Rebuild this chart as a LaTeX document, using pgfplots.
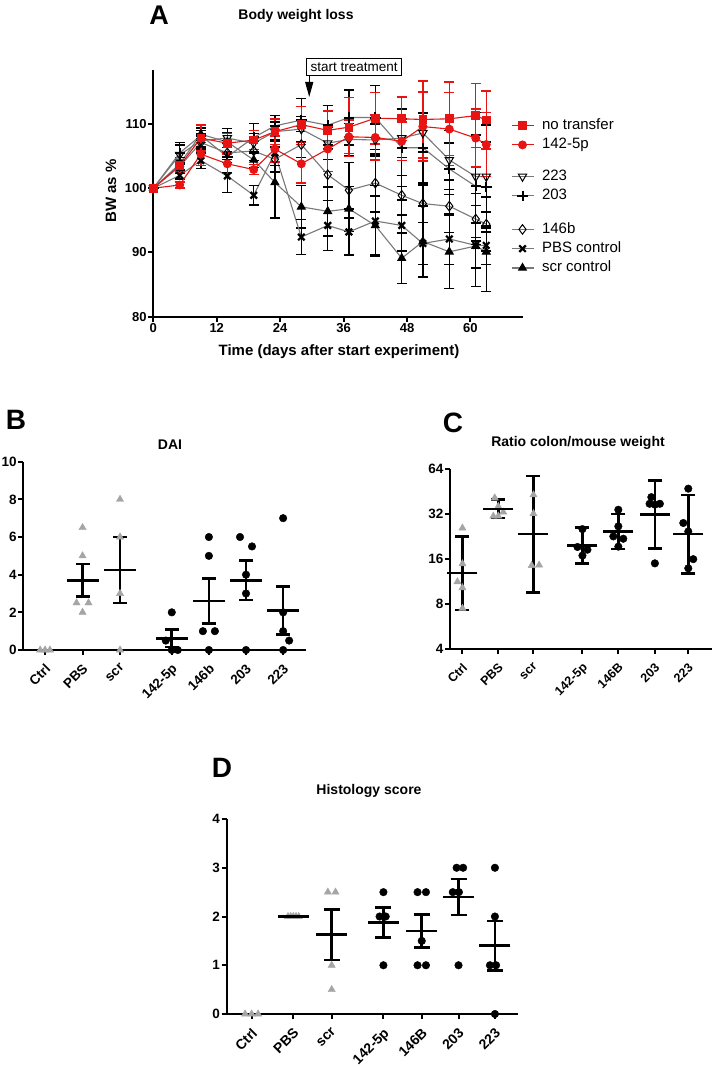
\documentclass[border=0pt]{standalone}
\usepackage{pgfplots}
\pgfplotsset{compat=1.18}
\usepackage{pgfplotstable}
\usepackage{fontspec}
\setmainfont{Liberation Sans}
\usetikzlibrary{arrows.meta}
\definecolor{myred}{RGB}{232,20,20}
\definecolor{lgray}{RGB}{120,120,120}
\definecolor{pgray}{RGB}{165,165,165}

% Panel A: body weight (mean, SEM)
\pgfplotstableread{
day nt   ntE pf    pfE sa    saE sb    sbE sc    scE pbs  pbsE scr   scrE
0   100  0   100   0   100   0   100   0   100   0   100  0    100   0
5   103.5 1.0 100.5 0.5 105.2 1.5 105.5 1.6 103.4 1.0 102.0 0.6 103.8 1.0
9   107.8 2.0 105.3 1.8 107.4 1.0 108.2 0.8 107.1 1.0 104.3 1.2 108.4 1.0
14  107.0 1.5 103.8 1.5 107.8 1.5 104.9 2.5 105.5 1.5 101.9 2.6 107.2 1.5
19  107.5 1.5 102.9 0.8 107.0 1.5 107.9 2.2 105.8 1.5 98.9 1.5 104.4 1.2
23  108.8 2.0 106.1 2.0 108.8 1.5 109.7 1.6 104.5 2.0 105.5 2.0 100.9 5.5
28  109.9 2.8 103.8 3.0 109.2 2.0 110.6 3.4 106.8 2.0 92.4 2.7 97.1 3.3
33  109.0 3.0 106.1 3.5 107.0 2.5 109.8 3.1 102.1 4.0 94.2 3.9 96.4 3.8
37  109.5 4.6 108.0 2.6 107.6 2.5 111.0 4.3 99.7 4.3 93.2 3.6 96.8 3.5
42  110.9 4.0 107.9 3.5 107.5 2.5 111.0 5.0 100.8 4.5 94.9 5.5 94.2 4.6
47  110.8 3.4 107.3 3.0 107.8 3.0 106.3 6.0 98.9 3.1 94.2 4.0 89.1 3.9
51  110.7 6.0 109.6 5.4 108.6 3.0 106.3 5.5 97.6 2.9 91.4 3.3 91.7 5.5
56  110.8 5.7 109.2 5.7 104.4 4.6 103.0 4.0 97.2 4.1 92.1 4.0 90.1 5.7
61  111.3 5.0 107.8 4.5 101.8 10.0 100.3 8.0 95.2 4.0 91.1 3.5 91.0 6.3
63  110.6 4.5 106.8 5.0 101.8 8.0 100.2 7.0 94.4 4.2 91.1 3.0 90.1 6.2
}\bwtab

% Panel B: DAI
\pgfplotstableread{
x y
0.45 0
0.58 0
0.71 0
1.58 6.5
1.58 5
1.42 2.5
1.74 2.5
1.58 2
2.58 8
2.58 6
2.58 3
2.58 0
}\daictrl
\pgfplotstableread{
x y
3.96 2
3.80 0.5
3.96 0
4.12 0
4.95 6
4.95 5
4.79 1
5.11 1
4.95 0
5.78 6
6.10 5.5
5.94 4
5.94 3
5.94 0
6.93 7
6.93 2
6.93 1
7.09 0.5
6.93 0
}\daitrt
\pgfplotstableread{
x m e
1.58 3.7 0.86
2.58 4.25 1.75
3.96 0.625 0.47
4.95 2.6 1.2
5.94 3.7 1.05
6.93 2.1 1.27
}\daimean

% Panel C: ratio colon/mouse weight
\pgfplotstableread{
x y
0.35 25.8
0.35 14.9
0.21 11.3
0.35 10.3
0.35 7.5
1.26 41
1.36 36
1.50 33
1.36 31
1.22 31
2.35 43
2.35 32.2
2.30 14.5
2.51 14.6
}\ratctrl
\pgfplotstableread{
x y
3.73 25.4
3.59 19.3
3.87 18.5
3.73 16.9
4.74 34.2
4.74 26.5
4.60 22.7
4.88 21.9
4.74 19.4
5.67 41.5
5.62 37.5
5.77 37
5.91 37.5
5.77 15
6.71 47.3
6.57 27.9
6.71 24.5
6.85 16
6.71 13.9
}\rattrt
\pgfplotstableread{
x m ep em
0.35 12.9 9.8 5.6
1.36 34.7 5.2 4.6
2.35 23.6 33.9 14.0
3.73 19.7 6.4 4.7
4.74 24.4 7.6 5.7
5.77 31.8 21.9 12.9
6.71 23.5 19.4 10.7
}\ratmean

% Panel D: histology score
\pgfplotstableread{
x y
0.48 0
0.65 0
0.82 0
1.60 2
1.67 2
1.74 2
1.81 2
1.88 2
2.64 2.5
2.84 2.5
2.74 1
2.74 0.5
}\hisctrl
\pgfplotstableread{
x y
4.09 2.5
3.99 2
4.15 2
4.09 1
4.98 2.5
5.20 2.5
5.09 1.5
4.98 1
5.20 1
6.00 3
6.17 3
5.90 2.5
6.06 2.5
6.05 1
7.00 3
7.00 2
6.87 1
7.03 1
7.00 0
}\histrt
\pgfplotstableread{
x m e
1.74 2 0
2.74 1.625 0.515
4.09 1.875 0.31
5.09 1.7 0.34
6.05 2.4 0.37
7.00 1.4 0.51
}\hismean

\pgfplotsset{
  gp/.style={
    scale only axis, clip=false,
    axis lines*=left,
    axis line style={line width=2pt, black, -},
    tick style={line width=2pt, black},
    tick align=outside,
    major tick length=5pt,
    /pgf/number format/assume math mode=true,
  },
  ticksB/.style={
    yticklabel style={font=\fontsize{13.5}{15}\selectfont\bfseries, inner sep=1.5pt},
    xticklabel style={font=\fontsize{#1}{15}\selectfont\bfseries, rotate=45, anchor=north east, inner sep=1pt, yshift=-4pt, xshift=-5pt},
  },
  sNT/.style={myred, line width=1.1pt, mark=square*, mark size=3.8pt, mark options={solid, fill=myred, draw=myred}},
  sPF/.style={myred, line width=1.1pt, mark=*, mark size=3.9pt, mark options={fill=myred, draw=myred}},
  sA/.style={lgray, line width=1.1pt, mark=triangle, mark size=4.8pt, mark options={rotate=180, fill=white, draw=black, line width=1pt}},
  sB/.style={lgray, line width=1.1pt, mark=+, mark size=5.2pt, mark options={draw=black, line width=2pt}},
  sC/.style={lgray, line width=1.1pt, mark=diamond, mark size=4.8pt, mark options={fill=white, draw=black, line width=1pt}},
  sP/.style={lgray, line width=1.1pt, mark=x, mark size=4.6pt, mark options={draw=black, line width=2.2pt}},
  sS/.style={lgray, line width=1.1pt, mark=triangle*, mark size=4.4pt, mark options={fill=black, draw=black}},
  ebk/.style={error bars/.cd, y dir=both, y explicit, error bar style={black, line width=1.5pt}, error mark=-, error mark options={rotate=90, black, mark size=5pt, line width=1.5pt}},
  erd/.style={error bars/.cd, y dir=both, y explicit, error bar style={myred, line width=1.5pt}, error mark=-, error mark options={rotate=90, myred, mark size=5pt, line width=1.5pt}},
  ctrlpt/.style={only marks, mark=triangle*, mark size=4.2pt, mark options={fill=pgray, draw=pgray}},
  trtpt/.style={only marks, mark=*, mark size=3.8pt, mark options={fill=black, draw=black}},
  meanst/.style={only marks, black, mark=-, mark size=#1, mark options={line width=2.6pt, black}},
  merr/.style={error bars/.cd, y dir=both, y explicit, error bar style={line width=2.6pt, black}, error mark=-, error mark options={rotate=90, mark size=#1, line width=2.6pt, black}},
}

\begin{document}
\begin{tikzpicture}[x=1pt,y=1pt]
\path[use as bounding box] (0,0) rectangle (715,-1067);

% ---------------- Panel A ----------------
\begin{axis}[gp, at={(153.3pt,-316.7pt)}, anchor=south west,
  width=370pt, height=246.7pt,
  xmin=0, xmax=70, ymin=80, ymax=118.4,
  xtick={0,12,24,36,48,60}, ytick={80,90,100,110},
  yticklabel style={font=\fontsize{13}{14}\selectfont\bfseries, inner sep=1.5pt},
  xticklabel style={font=\fontsize{13}{14}\selectfont\bfseries, inner sep=1.5pt},
  legend style={draw=none, fill=none, at={(axis description cs:0.958,0.818)}, anchor=north west,
    font=\fontsize{15}{17}\selectfont, row sep=2.3pt, column sep=7pt,
    nodes={text height=11.5pt, text depth=3.5pt, inner sep=1pt}},
  legend cell align=left,
  legend image code/.code={\draw[mark repeat=2,mark phase=2] plot coordinates {(0pt,0pt) (11pt,0pt) (22pt,0pt)};},
]
\addlegendimage{sNT}\addlegendentry{no transfer}
\addlegendimage{sPF}\addlegendentry{142-5p}
\addlegendimage{empty legend}\addlegendentry[text height=8pt, text depth=0pt]{}
\addlegendimage{sA}\addlegendentry{223}
\addlegendimage{sB}\addlegendentry{203}
\addlegendimage{empty legend}\addlegendentry[text height=10pt, text depth=0pt]{}
\addlegendimage{sC}\addlegendentry{146b}
\addlegendimage{sP}\addlegendentry{PBS control}
\addlegendimage{sS}\addlegendentry{scr control}

\addplot[forget plot, sS, ebk] table[x=day, y=scr, y error=scrE] {\bwtab};
\addplot[forget plot, sP, ebk] table[x=day, y=pbs, y error=pbsE] {\bwtab};
\addplot[forget plot, sC, ebk] table[x=day, y=sc, y error=scE] {\bwtab};
\addplot[forget plot, sB, ebk] table[x=day, y=sb, y error=sbE] {\bwtab};
\addplot[forget plot, sA, ebk] table[x=day, y=sa, y error=saE] {\bwtab};
\addplot[forget plot, sPF, erd] table[x=day, y=pf, y error=pfE] {\bwtab};
\addplot[forget plot, sNT, erd] table[x=day, y=nt, y error=ntE] {\bwtab};

\node[draw, line width=1.3pt, inner xsep=4pt, inner ysep=4pt, anchor=south west, font=\fontsize{13.5}{15}\selectfont]
  at (axis cs:28.9,117.46) {start treatment};
\draw[line width=1.3pt, -{Triangle[length=15pt, width=8pt]}] (axis cs:29.5,117.46) -- (axis cs:29.5,114.2);
\end{axis}

\node[font=\fontsize{27}{27}\selectfont\bfseries] at (159,-15) {A};
\node[font=\fontsize{14}{16}\selectfont\bfseries] at (296,-16) {Body weight loss};
\node[font=\fontsize{15}{17}\selectfont\bfseries] at (339,-352) {Time (days after start experiment)};
\node[font=\fontsize{15}{17}\selectfont\bfseries, rotate=90] at (111,-191) {BW as \%};

% ---------------- Panel B ----------------
\begin{axis}[gp, ticksB=13.5, at={(23.3pt,-650pt)}, anchor=south west,
  width=282.7pt, height=188.3pt,
  xmin=0, xmax=7.54, ymin=0, ymax=10,
  ytick={0,2,4,6,8,10},
  xtick={0.58,1.58,2.58,3.96,4.95,5.94,6.93},
  xticklabels={Ctrl,PBS,scr,142-5p,146b,203,223},
]
\addplot[ctrlpt] table[x=x, y=y] {\daictrl};
\addplot[trtpt] table[x=x, y=y] {\daitrt};
\addplot[meanst=16pt, merr=7pt] table[x=x, y=m, y error=e] {\daimean};
\end{axis}
\node[font=\fontsize{28}{28}\selectfont\bfseries] at (16,-420) {B};
\node[font=\fontsize{14}{16}\selectfont\bfseries] at (170,-445) {DAI};

% ---------------- Panel C ----------------
\begin{axis}[gp, ticksB=12.5, at={(450pt,-649.3pt)}, anchor=south west,
  width=261.7pt, height=180.3pt,
  xmin=0, xmax=7.37, ymode=log, log basis y=2, ymin=4, ymax=64,
  ytick={4,8,16,32,64}, yticklabels={4,8,16,32,64},
  xtick={0.35,1.36,2.35,3.73,4.74,5.77,6.71},
  xticklabels={Ctrl,PBS,scr,142-5p,146B,203,223},
]
\addplot[ctrlpt] table[x=x, y=y] {\ratctrl};
\addplot[trtpt] table[x=x, y=y] {\rattrt};
\addplot[meanst=15pt, merr=7pt] table[x=x, y=m, y error plus=ep, y error minus=em] {\ratmean};
\end{axis}
\node[font=\fontsize{28}{28}\selectfont\bfseries] at (453,-423) {C};
\node[font=\fontsize{14}{16}\selectfont\bfseries] at (578,-443) {Ratio colon/mouse weight};

% ---------------- Panel D ----------------
\begin{axis}[gp, ticksB=14, at={(226.7pt,-1014pt)}, anchor=south west,
  width=291.6pt, height=195pt,
  xmin=0, xmax=7.61, ymin=0, ymax=4,
  ytick={0,1,2,3,4},
  xtick={0.65,1.74,2.74,4.09,5.09,6.05,7.00},
  xticklabels={Ctrl,PBS,scr,142-5p,146B,203,223},
]
\addplot[ctrlpt] table[x=x, y=y] {\hisctrl};
\addplot[trtpt] table[x=x, y=y] {\histrt};
\addplot[meanst=15.5pt, merr=8pt] table[x=x, y=m, y error=e] {\hismean};
\end{axis}
\node[font=\fontsize{28}{28}\selectfont\bfseries] at (222,-768) {D};
\node[font=\fontsize{14}{16}\selectfont\bfseries] at (369,-791) {Histology score};
\end{tikzpicture}
\end{document}
